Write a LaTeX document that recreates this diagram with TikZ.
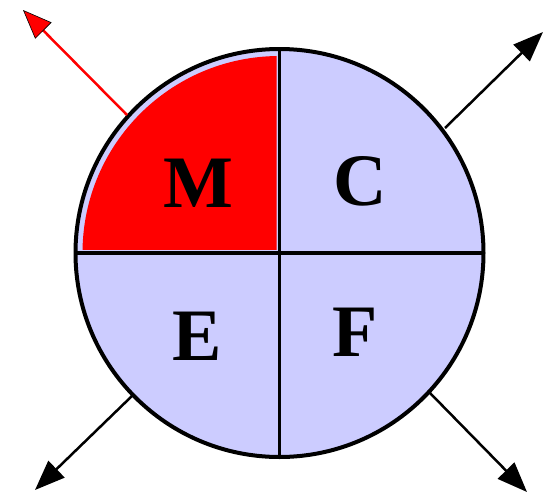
\documentclass[tikz,border=0pt]{standalone}
\usepackage{fontspec}
\setmainfont{Liberation Serif}
\usetikzlibrary{arrows.meta}
\definecolor{qblue}{RGB}{204,204,255}
\definecolor{qred}{RGB}{255,0,0}
\tikzset{
  letter/.style={font=\fontsize{74}{74}\selectfont\bfseries, text=black, inner sep=0pt},
  blackarrow/.style={draw=black, line width=2.5pt, -{Triangle[length=30pt,width=23pt]}},
  redarrow/.style={draw=qred, line width=2.5pt, -{Triangle[length=29pt,width=23pt,color=black,fill=qred,line width=0.6pt]}},
  divider/.style={draw=black, line width=3.5pt},
}
\begin{document}
\begin{tikzpicture}[x=1pt,y=-1pt]
\useasboundingbox (0,0) rectangle (549,493);
\coordinate (O) at (279.5,253);
% circle fill
\fill[qblue] (O) circle (204);
% red quadrant
\begin{scope}
  \clip (0,0) rectangle (276.5,249.5);
  \fill[qred] (O) circle (197);
\end{scope}
% dividers
\coordinate (T) at (279.5,49);
\coordinate (B) at (279.5,457);
\coordinate (L) at (75.5,253);
\coordinate (R) at (483.5,253);
\draw[divider] (T) -- (B);
\draw[divider] (L) -- (R);
% outline
\draw[black, line width=4pt] (O) circle (204);
% arrows
\coordinate (s1) at (127,115);
\coordinate (t1) at (23,10);
\coordinate (s2) at (445,128);
\coordinate (t2) at (543,32);
\coordinate (s3) at (133,395);
\coordinate (t3) at (35,490);
\coordinate (s4) at (430,393);
\coordinate (t4) at (527,492);
\draw[redarrow] (s1) -- (t1);
\draw[blackarrow] (s2) -- (t2);
\draw[blackarrow] (s3) -- (t3);
\draw[blackarrow] (s4) -- (t4);
% letters
\node[letter] (M) at (198,183) {M};
\node[letter] (C) at (360,181) {C};
\node[letter] (E) at (197,336) {E};
\node[letter] (F) at (355,332) {F};
\end{tikzpicture}
\end{document}
